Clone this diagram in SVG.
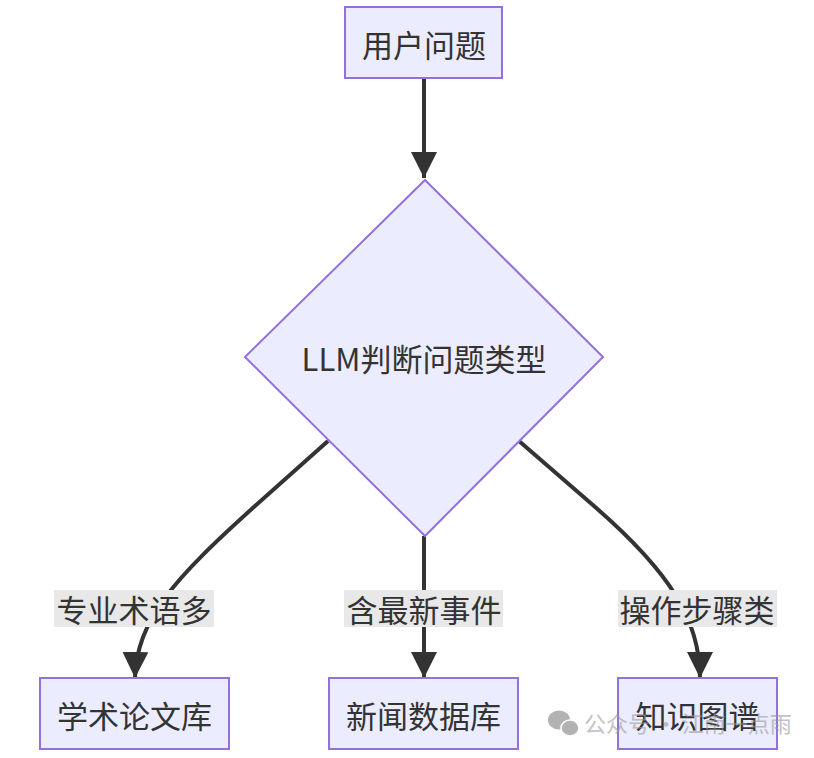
<svg xmlns="http://www.w3.org/2000/svg" width="814" height="758" viewBox="0 0 814 758">
<style>
.node{fill:#ECECFF;stroke:#9370DB;stroke-width:2}
.t{font-family:"Noto Sans CJK SC","Noto Sans",sans-serif;font-size:31px;fill:#333;text-anchor:middle;dominant-baseline:central}
.edge{fill:none;stroke:#333;stroke-width:4}
.lbg{fill:#e8e8e8}
.wm{font-family:"Noto Sans CJK SC",sans-serif;font-size:22px;fill:#9a9a9a;opacity:0.75}
</style>
<defs>
<marker id="arr" markerUnits="userSpaceOnUse" markerWidth="26" markerHeight="26" refX="24" refY="12" orient="auto" viewBox="0 0 24 24">
<path d="M0,0 L24,12 L0,24 z" fill="#333"/>
</marker>
</defs>
<rect width="814" height="758" fill="#fff"/>
<g id="connectors">
<path class="edge" d="M424,78 L424,178" marker-end="url(#arr)"/>
<path class="edge" d="M328,441 L255,506 C175,578 136,620 135,678" marker-end="url(#arr)"/>
<path class="edge" d="M424,536 L424,678" marker-end="url(#arr)"/>
<path class="edge" d="M519,441 L594,506 C670,572 700,620 700,678" marker-end="url(#arr)"/>
</g>
<g id="edge-labels">
<g id="label-1"><rect class="lbg" x="54" y="590" width="160" height="37"/><text class="t" x="134" y="608">专业术语多</text></g>
<g id="label-2"><rect class="lbg" x="344" y="590" width="159" height="37"/><text class="t" x="424" y="608">含最新事件</text></g>
<g id="label-3"><rect class="lbg" x="618" y="590" width="159" height="37"/><text class="t" x="697" y="608">操作步骤类</text></g>
</g>
<g id="node-question"><rect class="node" x="345" y="7" width="157" height="71"/><text class="t" x="424" y="43">用户问题</text></g>
<g id="node-decision"><polygon class="node" points="425,180 603,357 425,536 245,357"/><text class="t" x="424" y="357">LLM判断问题类型</text></g>
<g id="node-academic"><rect class="node" x="40" y="678" width="189" height="71"/><text class="t" x="134.5" y="714">学术论文库</text></g>
<g id="node-news"><rect class="node" x="329" y="678" width="189" height="71"/><text class="t" x="423.5" y="714">新闻数据库</text></g>
<g id="node-kg"><rect class="node" x="618" y="678" width="159" height="71"/><text class="t" x="697.5" y="714">知识图谱</text></g>
<g id="watermark" opacity="0.8">
<ellipse cx="559" cy="720" rx="11" ry="9.5" fill="#a0a0a0"/>
<ellipse cx="570" cy="728" rx="9" ry="8" fill="#a0a0a0" stroke="#fff" stroke-width="1.5"/>
<text class="wm" x="584" y="732">公众号 · 江南一点雨</text>
</g>
</svg>
